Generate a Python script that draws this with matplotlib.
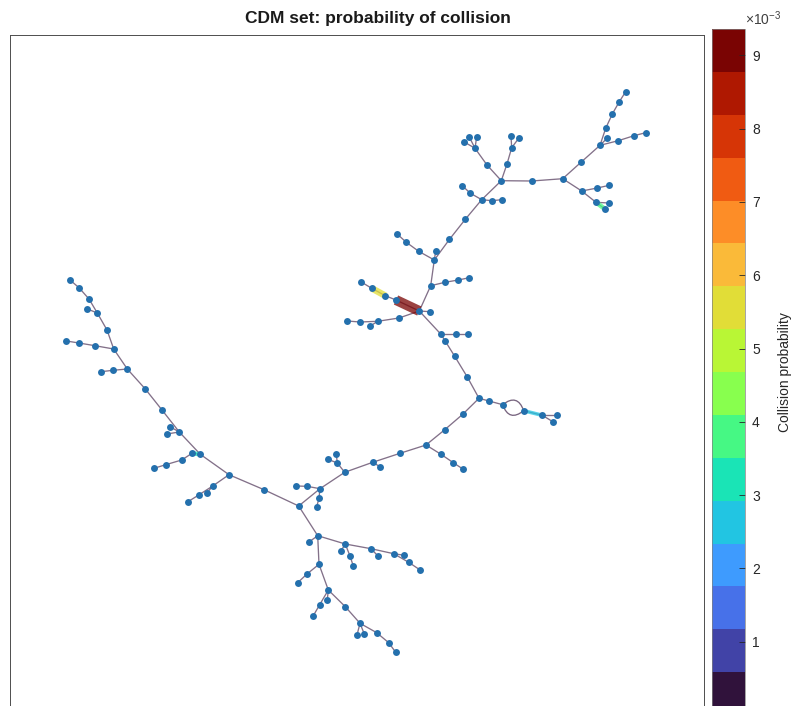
import matplotlib
matplotlib.use("Agg")
import matplotlib.pyplot as plt
import numpy as np
from matplotlib.collections import LineCollection
from matplotlib.colors import Normalize
from matplotlib.cm import ScalarMappable
from matplotlib.patches import FancyArrowPatch

plt.rcParams['font.family'] = ['Liberation Sans', 'DejaVu Sans']
plt.rcParams['mathtext.fontset'] = 'custom'
plt.rcParams['mathtext.rm'] = 'Liberation Sans'

# node layout (x right, y down)
node_x = [625.7, 619.3, 612.3, 605.7, 607.0, 600.0, 618.3, 634.0, 645.7, 581.3,
          562.7, 531.7, 501.3, 581.7, 597.3, 609.3, 596.0, 608.7, 605.3, 507.0,
          511.7, 511.0, 518.7, 487.0, 475.0, 464.3, 469.3, 476.7, 481.7, 492.0,
          501.7, 470.0, 462.3, 465.3, 449.5, 434.3, 435.7, 418.7, 406.3, 397.5,
          430.7, 445.0, 458.3, 469.3, 419.3, 430.0, 396.0, 385.3, 371.7, 361.3,
          399.0, 377.7, 369.7, 360.0, 347.3, 440.7, 455.7, 467.7, 445.0, 454.7,
          467.3, 479.0, 489.0, 502.7, 523.7, 542.3, 556.7, 553.3, 462.7, 445.0,
          426.0, 441.0, 453.3, 463.3, 400.0, 372.7, 380.0, 344.7, 337.3, 336.3,
          328.0, 320.0, 307.0, 296.3, 319.0, 316.7, 298.7, 264.0, 229.0, 212.7,
          206.7, 198.7, 188.0, 200.3, 192.0, 181.7, 165.7, 154.0, 179.3, 170.0,
          166.7, 162.0, 145.3, 127.3, 113.0, 101.0, 113.7, 95.0, 79.0, 66.3,
          107.0, 97.3, 86.7, 89.0, 79.0, 70.0, 317.7, 309.0, 345.3, 340.7,
          350.0, 353.3, 371.0, 377.7, 393.7, 404.3, 408.7, 419.7, 319.0, 307.0,
          297.7, 328.3, 327.3, 319.7, 313.3, 345.3, 360.0, 357.0, 364.3, 376.7,
          388.7, 395.7]
node_y = [91.7, 101.7, 114.0, 128.3, 138.3, 145.3, 140.7, 135.7, 132.7, 162.0,
          178.7, 181.0, 180.7, 191.0, 188.0, 185.3, 202.3, 203.0, 209.3, 164.0,
          147.7, 136.3, 138.3, 165.0, 148.3, 142.0, 137.0, 136.7, 199.7, 200.7,
          199.7, 193.0, 185.7, 219.3, 239.3, 260.0, 251.3, 251.3, 242.3, 234.3,
          285.7, 282.3, 280.0, 277.7, 311.0, 311.7, 300.0, 295.7, 288.3, 282.0,
          318.0, 321.3, 326.3, 322.0, 321.0, 334.0, 334.0, 334.0, 340.7, 356.3,
          377.0, 398.3, 401.0, 404.7, 410.7, 415.3, 415.3, 422.0, 414.3, 429.5,
          445.0, 454.3, 462.7, 469.3, 453.3, 462.3, 466.7, 472.3, 463.0, 454.3,
          459.3, 488.7, 486.3, 486.0, 498.3, 506.7, 506.0, 489.7, 474.7, 486.0,
          493.3, 495.0, 501.7, 454.3, 453.3, 460.0, 464.7, 468.3, 432.0, 426.7,
          434.0, 410.0, 389.0, 369.0, 370.3, 371.7, 349.0, 345.7, 343.0, 341.0,
          330.0, 313.0, 308.7, 299.0, 287.7, 280.0, 535.7, 542.0, 544.0, 551.3,
          556.0, 566.0, 548.7, 555.7, 553.7, 555.3, 562.3, 569.7, 564.3, 574.0,
          582.7, 590.0, 599.7, 604.7, 615.7, 606.7, 623.3, 635.0, 634.0, 632.7,
          642.7, 652.3]

edges = [(0, 1), (1, 2), (2, 3), (3, 5), (4, 5), (5, 6), (6, 7), (7, 8), (5, 9), (9, 10),
         (10, 11), (11, 12), (10, 13), (13, 14), (14, 15), (13, 16), (16, 17), (16, 18),
         (12, 19), (19, 20), (20, 21), (20, 22), (12, 23), (23, 24), (24, 25), (24, 26),
         (24, 27), (12, 28), (28, 29), (29, 30), (28, 31), (31, 32), (28, 33), (33, 34),
         (34, 35), (35, 36), (35, 37), (37, 38), (38, 39), (35, 40), (40, 41), (41, 42),
         (42, 43), (40, 44), (44, 45), (44, 46), (46, 47), (47, 48), (48, 49), (44, 50),
         (50, 51), (51, 52), (51, 53), (53, 54), (44, 55), (55, 56), (56, 57), (55, 58),
         (58, 59), (59, 60), (60, 61), (61, 62), (62, 63), (63, 64), (63, 64), (64, 65),
         (65, 66), (65, 67), (61, 68), (68, 69), (69, 70), (70, 71), (71, 72), (72, 73),
         (70, 74), (74, 75), (75, 76), (75, 77), (77, 78), (78, 79), (78, 80), (77, 81),
         (81, 82), (82, 83), (81, 84), (84, 85), (81, 86), (86, 87), (87, 88), (88, 89),
         (89, 90), (89, 91), (91, 92), (88, 93), (93, 94), (94, 95), (95, 96), (96, 97),
         (93, 98), (98, 99), (98, 100), (98, 101), (101, 102), (102, 103), (103, 104),
         (104, 105), (103, 106), (106, 107), (107, 108), (108, 109), (106, 110),
         (110, 111), (111, 112), (111, 113), (113, 114), (114, 115), (86, 116),
         (116, 117), (116, 118), (118, 119), (118, 120), (120, 121), (118, 122),
         (122, 123), (122, 124), (124, 125), (124, 126), (126, 127), (116, 128),
         (128, 129), (129, 130), (128, 131), (131, 132), (131, 133), (133, 134),
         (131, 135), (135, 136), (136, 137), (136, 138), (136, 139), (139, 140),
         (140, 141)]

# edges with non-zero probability of collision
risky_edges = [(44, 46), (47, 48), (64, 65), (16, 18), (93, 94)]
risky_pc = [9.2e-3, 5.7e-3, 2.6e-3, 3.7e-3, 3.3e-3]

cb_ticks = [1, 2, 3, 4, 5, 6, 7, 8, 9]
pc_max = 9.36e-3
n_levels = 16

fig = plt.figure(figsize=(7.92, 7.06), dpi=100)
ax = fig.add_axes([10 / 792, -9 / 706, 694 / 792, 680 / 706])
cax = fig.add_axes([712 / 792, -9 / 706, 33 / 792, 686 / 706])

cmap = plt.get_cmap('turbo', n_levels)
norm = Normalize(0, pc_max)

xy = np.column_stack([node_x, node_y])
counts = {}
for e in edges:
    counts[tuple(sorted(e))] = counts.get(tuple(sorted(e)), 0) + 1

straight = [xy[list(e)] for e in edges if counts[tuple(sorted(e))] == 1]
ax.add_collection(LineCollection(straight, colors=[cmap(0)], linewidths=0.95,
                                 alpha=0.6, zorder=1))

# repeated edges drawn as arcs
done = set()
for e in edges:
    k = tuple(sorted(e))
    if counts[k] > 1 and k not in done:
        done.add(k)
        for rad in (0.7, -0.7):
            arc = FancyArrowPatch(xy[e[0]], xy[e[1]], connectionstyle=f"arc3,rad={rad}",
                                  arrowstyle='-', color=cmap(0), lw=0.95, alpha=0.65,
                                  shrinkA=0, shrinkB=0, zorder=1)
            ax.add_patch(arc)

risky_segs = [xy[list(e)] for e in risky_edges]
lc = LineCollection(risky_segs, cmap=cmap, norm=norm, alpha=0.75, zorder=2,
                    linewidths=0.8 + np.array(risky_pc) * 1e3 * 0.7)
lc.set_array(np.array(risky_pc))
ax.add_collection(lc)

ax.plot(node_x, node_y, 'o', ms=5.0, color='#2470ad', mec='none', zorder=3)

ax.set_xlim(10, 704)
ax.set_ylim(715, 35)
ax.set_xticks([])
ax.set_yticks([])
for s in ax.spines.values():
    s.set_linewidth(0.7)
    s.set_color('#4d4d4d')

fig.text(378 / 792, 1 - 18 / 706, 'CDM set: probability of collision', fontsize=12.5,
         fontweight='bold', color='#1a1a1a', ha='center', va='center')

cb = fig.colorbar(ScalarMappable(norm=norm, cmap=cmap), cax=cax,
                  ticks=np.array(cb_ticks) * 1e-3)
cb.ax.set_yticklabels([str(t) for t in cb_ticks])
cb.ax.tick_params(direction='in', length=4, width=0.6, labelsize=10,
                  colors='#262626', pad=5)
cb.outline.set_linewidth(0.5)
cb.outline.set_edgecolor('#808080')
cb.set_label('Collision probability', fontsize=10, color='#262626', labelpad=13)
fig.text(745 / 792, 1 - 19 / 706, r'$\times\mathregular{10^{-3}}$', fontsize=10,
         color='#404040', va='center', ha='left')

fig.savefig('out.png', dpi=100)
